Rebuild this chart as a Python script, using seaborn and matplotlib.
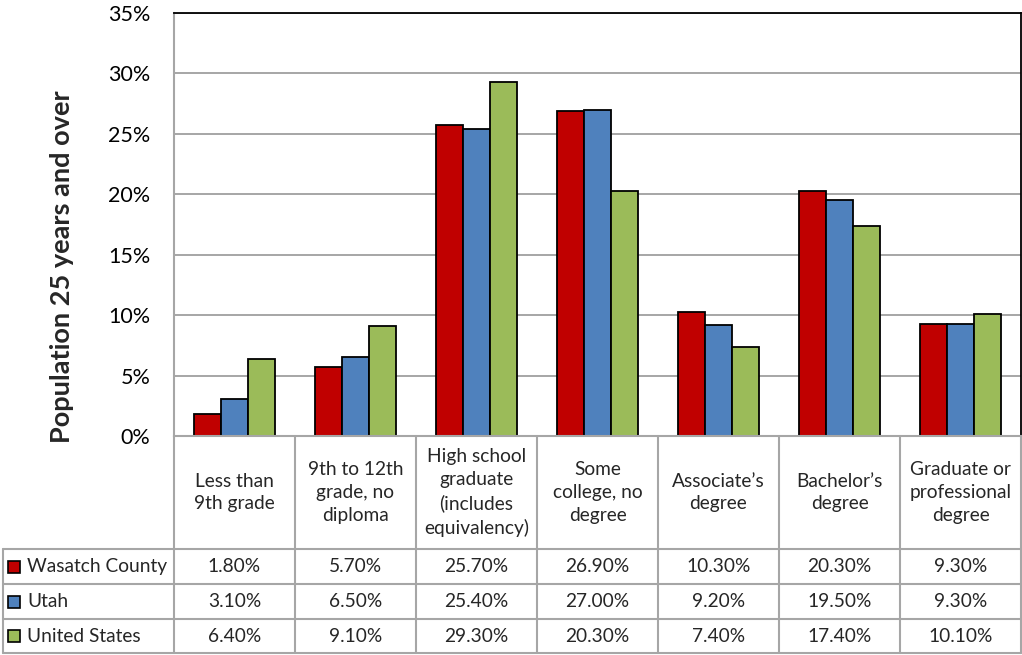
import numpy as np
import pandas as pd
import matplotlib
matplotlib.use('Agg')
import matplotlib.pyplot as plt
import matplotlib.transforms as mtransforms
from matplotlib.patches import Rectangle
import seaborn as sns

categories = ['Less than\n9th grade', '9th to 12th\ngrade, no\ndiploma',
              'High school\ngraduate\n(includes\nequivalency)', 'Some\ncollege, no\ndegree',
              'Associate\u2019s\ndegree', 'Bachelor\u2019s\ndegree', 'Graduate or\nprofessional\ndegree']
series = ['Wasatch County', 'Utah', 'United States']
wasatch = [1.8, 5.7, 25.7, 26.9, 10.3, 20.3, 9.3]
utah = [3.1, 6.5, 25.4, 27.0, 9.2, 19.5, 9.3]
usa = [6.4, 9.1, 29.3, 20.3, 7.4, 17.4, 10.1]
colors = ['#C00000', '#4F81BD', '#9BBB59']
yticks = [0, 5, 10, 15, 20, 25, 30, 35]

df = pd.DataFrame({
    'category': categories * 3,
    'series': np.repeat(series, len(categories)),
    'value': wasatch + utah + usa,
})

sns.set_theme(style='white')
plt.rcParams['font.family'] = ['Lato', 'DejaVu Sans']

W, H = 1022, 655
fig = plt.figure(figsize=(W / 100, H / 100), dpi=100)
left, right, top, bottom = 174, 1021, 13, 436
ax = fig.add_axes([left / W, 1 - bottom / H, (right - left) / W, (bottom - top) / H])

sns.barplot(data=df, x='category', y='value', hue='series', order=categories,
            hue_order=series, palette=colors, saturation=1, width=0.67, gap=0,
            edgecolor='black', linewidth=1.3, legend=False, ax=ax)

grid_col = '#A6A6A6'
ax.set_xlim(-0.5, len(categories) - 0.5)
ax.set_ylim(0, 35)
ax.set_yticks(yticks)
ax.set_yticklabels([f'{v}%' for v in yticks], fontsize=15.5, color='black')
ax.set_xticks([])
ax.set_xlabel('')
ax.set_ylabel('')
ax.tick_params(axis='y', length=0, pad=17)
ax.yaxis.grid(True, color=grid_col, linewidth=1.4)
ax.set_axisbelow(True)
for s in ['top', 'right']:
    ax.spines[s].set_color('black')
    ax.spines[s].set_linewidth(1.3)
for s in ['left', 'bottom']:
    ax.spines[s].set_color(grid_col)
    ax.spines[s].set_linewidth(1.5)

fig.text(62 / W, 1 - 267 / H, 'Population 25 years and over', rotation=90,
         ha='center', va='center', fontsize=19.5, fontweight='bold')

# data table under the chart
blend = mtransforms.blended_transform_factory(ax.transData, fig.transFigure)
col_w = (right - left) / len(categories)
leg_left = -0.5 - (left - 3) / col_w
rows_px = [436, 549, 584, 619, 653]
rows = [1 - p / H for p in rows_px]
n = len(categories)

def hline(x0, x1, y):
    ax.plot([x0, x1], [y, y], color=grid_col, lw=1.5, transform=blend, clip_on=False)

def vline(x, y0, y1):
    ax.plot([x, x], [y0, y1], color=grid_col, lw=1.5, transform=blend, clip_on=False)

for i in range(n + 1):
    vline(i - 0.5, rows[0], rows[-1])
vline(leg_left, rows[1], rows[-1])
for r in rows[1:]:
    hline(leg_left, n - 0.5, r)

for i, cat in enumerate(categories):
    ax.text(i, (rows[0] + rows[1]) / 2, cat, transform=blend, ha='center', va='center',
            fontsize=13.8, linespacing=1.42)

for j, (name, vals, c) in enumerate(zip(series, [wasatch, utah, usa], colors)):
    yc = (rows[j + 1] + rows[j + 2]) / 2
    for i, v in enumerate(vals):
        ax.text(i, yc, f'{v:.2f}%', transform=blend, ha='center', va='center', fontsize=13.8)
    sq = 12
    fig.patches.append(Rectangle((8 / W, yc - sq / 2 / H), sq / W, sq / H, facecolor=c,
                                 edgecolor='black', lw=1.2, transform=fig.transFigure))
    fig.text(27 / W, yc, name, ha='left', va='center', fontsize=13.8)

fig.savefig('out.png', dpi=100)
